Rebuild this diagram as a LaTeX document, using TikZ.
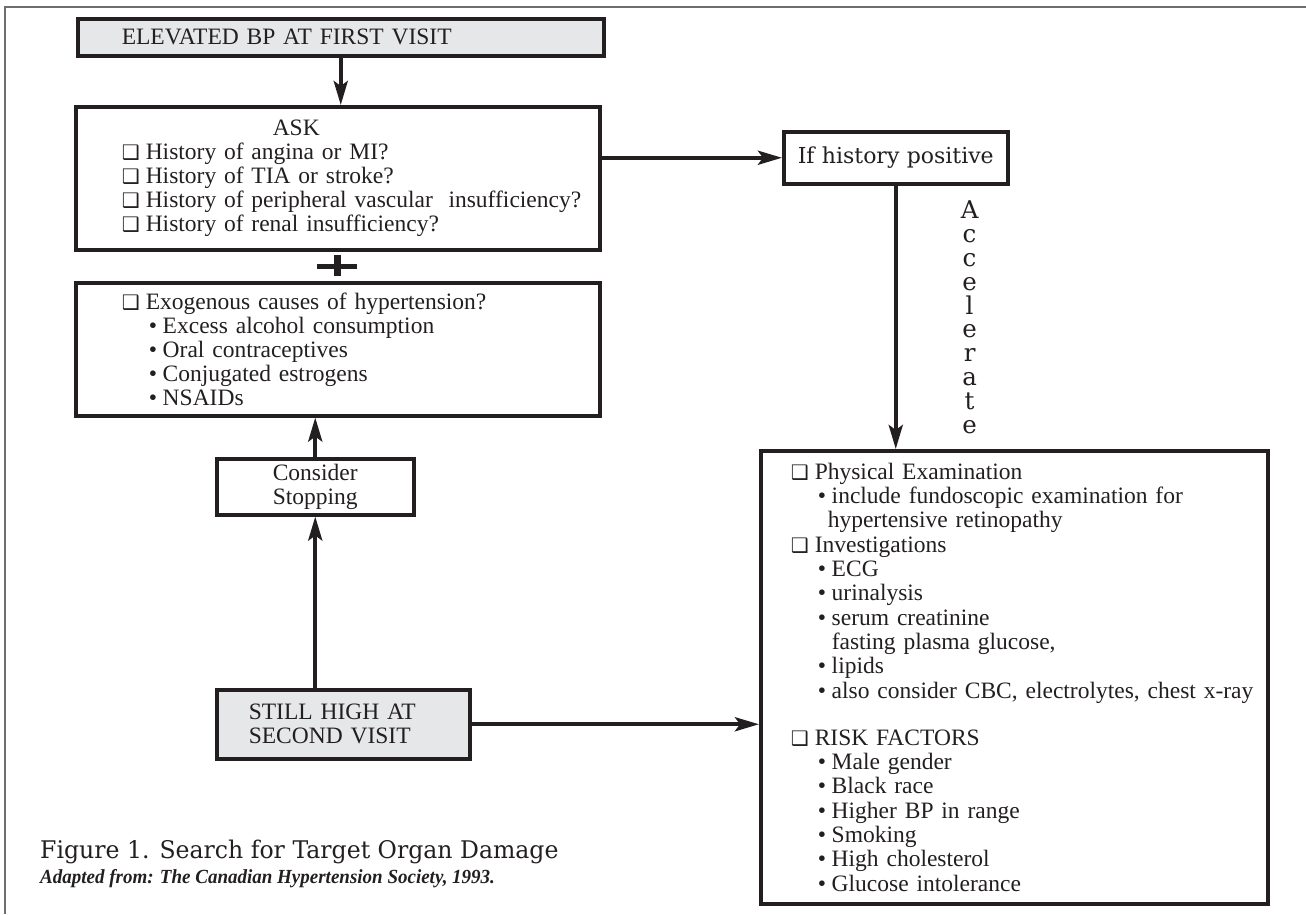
\documentclass[tikz,border=0pt]{standalone}
\usepackage{fontspec}
\setmainfont{Liberation Serif}
\newfontfamily\boxfont{Liberation Serif}
\newfontfamily\widefont{DejaVu Serif}
\newfontfamily\titlefont[FakeStretch=0.97]{DejaVu Serif}
\newfontfamily\notefont[FakeStretch=0.95]{Liberation Serif}
\newfontfamily\symfont{DejaVu Sans}
\usetikzlibrary{arrows.meta,positioning}

\definecolor{ink}{HTML}{231F20}
\definecolor{boxgrey}{HTML}{E6E7E8}
\definecolor{rule}{HTML}{6D6E71}

\newcommand{\chk}{\makebox[24pt][l]{\smash{\symfont\fontsize{20pt}{20pt}\selectfont ❑}}}
\newcommand{\bul}{\hspace*{27pt}\makebox[14pt][l]{•}}

\begin{document}
\begin{tikzpicture}[x=1pt, y=-1pt,
    box/.style={draw=ink, line width=3.5pt, anchor=north west, inner xsep=0pt, inner ysep=2pt, text=ink, font=\boxfont\fontsize{23.5pt}{24pt}\selectfont},
    greybox/.style={box, fill=boxgrey},
    indent/.style={align=left, execute at begin node={\leftskip=#1\relax}},
    arr/.style={-{Stealth[length=24pt, width=14pt, inset=5pt]}, line width=4pt, draw=ink},
    accel/.style={align=center, inner sep=0pt, text=ink, font=\widefont\fontsize{24.5pt}{23.9pt}\selectfont}
  ]
  \useasboundingbox (0,0) rectangle (1306,914);
  % page edge
  \draw[rule, line width=2pt] (1306,7) -- (5,7) -- (5,914);

  \node[greybox, indent=44pt, text width=526pt, minimum height=37pt] (elev) at (76,17) {ELEVATED BP AT FIRST VISIT};

  \node[box, indent=46pt, text width=524pt, minimum height=143pt] (ask) at (74,105)
    {\hspace*{151pt}ASK\\
     \chk History of angina or MI?\\
     \chk History of TIA or stroke?\\
     \chk History of peripheral vascular~ insufficiency?\\
     \chk History of renal insufficiency?};

  \coordinate (plus) at (337,266);
  \draw[ink, line width=5pt] ([xshift=-20pt]plus) -- ([xshift=20pt]plus);
  \draw[ink, line width=7pt] ([yshift=11pt]plus) -- ([yshift=-10pt]plus);

  \node[box, indent=46pt, text width=524pt, minimum height=133pt] (exog) at (74,281)
    {\chk Exogenous causes of hypertension?\\
     \bul Excess alcohol consumption\\
     \bul Oral contraceptives\\
     \bul Conjugated estrogens\\
     \bul NSAIDs};

  \node[box, align=center, text width=197pt, minimum height=56pt] (consider) at (215,457) {Consider\\Stopping};
  \node[greybox, indent=32pt, text width=253pt, minimum height=69pt] (still) at (215,688) {STILL HIGH AT\\SECOND VISIT};

  \node[box, align=center, text width=224pt, minimum height=52pt, font=\widefont\fontsize{22pt}{24pt}\selectfont] (ifpos) at (782,130) {If history positive};

  \node[box, indent=30pt, text width=507pt, minimum height=453pt, font=\boxfont\fontsize{23.5pt}{24.3pt}\selectfont] (exam) at (759,449)
    {\chk Physical Examination\\
     \bul include fundoscopic examination for\\
     \hspace*{37pt}hypertensive retinopathy\\
     \chk Investigations\\
     \bul ECG\\
     \bul urinalysis\\
     \bul serum creatinine\\
     \hspace*{41pt}fasting plasma glucose,\\
     \bul lipids\\
     \bul also consider CBC, electrolytes, chest x-ray\\[23pt]
     \chk RISK FACTORS\\
     \bul Male gender\\
     \bul Black race\\
     \bul Higher BP in range\\
     \bul Smoking\\
     \bul High cholesterol\\
     \bul Glucose intolerance};

  \draw[arr] (elev.south) -- (elev.south |- ask.north);
  \draw[arr] (ask.east |- ifpos.west) -- (ifpos.west);
  \draw[arr] (ifpos.south) -- node[accel, midway, right=63pt] (accelerate) {A\\c\\c\\e\\l\\e\\r\\a\\t\\e} (ifpos.south |- exam.north);
  \draw[arr] (consider.north) -- (consider.north |- exog.south);
  \draw[arr] (consider.south |- still.north) -- (consider.south);
  \draw[arr] (still.east) -- (still.east -| exam.west);

  \node[anchor=base west, inner sep=0pt, text=ink, font=\titlefont\fontsize{24.3pt}{26pt}\selectfont] (title) at (40,858) {Figure 1. Search for Target Organ Damage};
  \node[anchor=base west, inner sep=0pt, text=ink, font=\notefont\bfseries\itshape\fontsize{20pt}{21pt}\selectfont] (source) at (40,883) {Adapted from: The Canadian Hypertension Society, 1993.};
\end{tikzpicture}
\end{document}
